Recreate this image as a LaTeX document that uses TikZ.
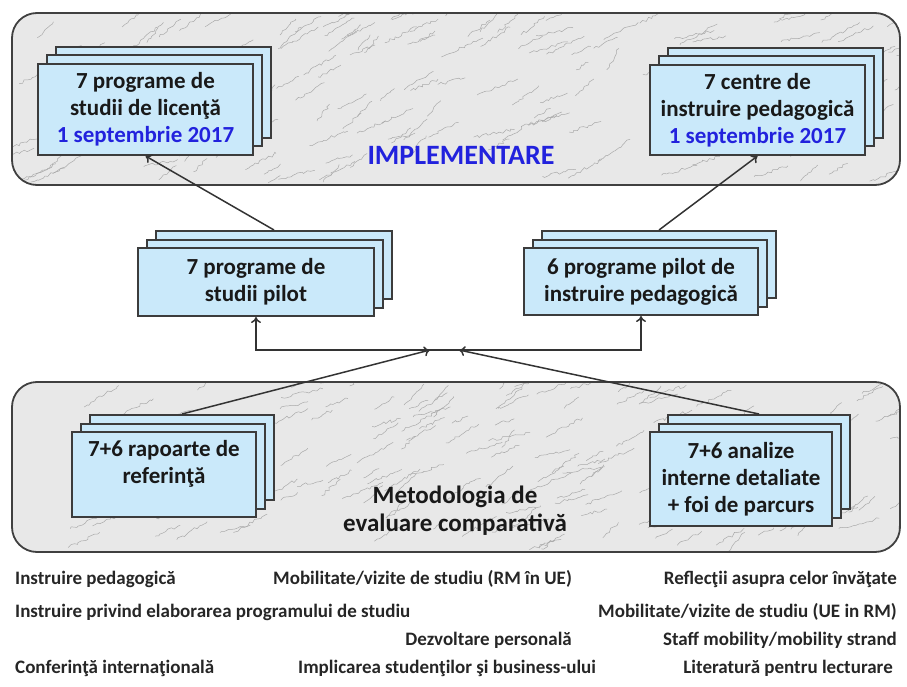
\documentclass[tikz,border=0pt]{standalone}
\usepackage{fontspec}
\setmainfont{Carlito}
\usetikzlibrary{arrows.meta,decorations.pathmorphing}
\definecolor{cardblue}{RGB}{202,233,250}
\definecolor{cardline}{RGB}{60,60,60}
\definecolor{datablue}{RGB}{34,34,221}
\definecolor{marble}{RGB}{232,232,232}
\definecolor{vein}{RGB}{170,170,170}
\tikzstyle{sheet}=[draw=cardline,fill=cardblue,line width=2pt,inner sep=0pt]
\tikzstyle{card}=[sheet,align=center,font=\fontsize{23}{27}\selectfont\bfseries,text=black!90]
\tikzstyle{slab}=[draw=black!75,line width=1.8pt,rounded corners=25pt]
\tikzstyle{link}=[draw=black!80,line width=1.5pt,>={To[length=6pt,width=10pt]},->]
\tikzstyle{item}=[font=\fontsize{19}{22}\selectfont\bfseries,text=black!85,inner sep=0pt]

\begin{document}
\begin{tikzpicture}[x=1pt,y=-1pt]
        \useasboundingbox (0,0) rectangle (907,687);

        % marble slabs
        \pgfmathsetseed{7}
        \foreach \ya/\yb in {13/185,382/552} {
          \fill[marble,rounded corners=25pt] (12,\ya) rectangle (900,\yb);
          \begin{scope}
            \clip[rounded corners=25pt] (12,\ya) rectangle (900,\yb);
            \foreach \v in {1,...,170}
              \draw[vein,line width=.5pt,decorate,
                decoration={random steps,segment length=3pt,amplitude=1.5pt}]
                ({12+888*rnd},{\ya+(\yb-\ya)*rnd}) -- ++({12+30*rnd},{-6-16*rnd});
          \end{scope}
          \draw[slab] (12,\ya) rectangle (900,\yb);
        }

        \node[font=\fontsize{28}{32}\selectfont\bfseries,text=datablue] at (461,155) (impl) {IMPLEMENTARE};
        \node[font=\fontsize{25}{28}\selectfont\bfseries,text=black!90,align=center] at (455,511) (metod) {Metodologia de\\evaluare comparativă};

        % sheets behind each card
        \foreach \n/\x/\y/\w/\h in {licenta/145.5/109.5/215/91,centre/757.5/110/215/90,
            pilot/256/282/236/68,pedag/641/281.5/234/67,raport/164/474.5/184/85,analiz/741/479/182/94}
          \foreach \k in {2,1}
            \node[sheet,minimum width=\w pt,minimum height=\h pt] at (\x+9*\k,\y-8.5*\k) (\n\k) {};

        \node[card,minimum width=215pt,minimum height=91pt] at (145.5,109.5) (licenta)
          {7 programe de\\studii de licenţă\\\textcolor{datablue}{1 septembrie 2017}};
        \node[card,minimum width=215pt,minimum height=90pt] at (757.5,110) (centre)
          {7 centre de\\instruire pedagogică\\\textcolor{datablue}{1 septembrie 2017}};

        \node[card,minimum width=236pt,minimum height=68pt] at (256,282) (pilot) {7 programe de\\studii pilot};
        \node[card,minimum width=234pt,minimum height=67pt] at (641,281.5) (pedag) {6 programe pilot de\\instruire pedagogică};

        \node[card,minimum width=184pt,minimum height=85pt,text depth=25pt] at (164,474.5) (raport) {7+6 rapoarte de\\referinţă};
        \node[card,minimum width=182pt,minimum height=94pt] at (741,479) (analiz) {7+6 analize\\interne detaliate\\+ foi de parcurs};

        \coordinate (hub) at (450,350);
        \coordinate (hubL) at (430,350);
        \coordinate (hubR) at (459,350);

        \draw[link] (pilot2.north) -- (licenta.south);
        \draw[link] (pedag2.north) -- (centre.south);
        \draw[link,<->] (pilot.south) |- (hub) -| (pedag.south);
        \draw[link] (raport2.north) -- (hubL);
        \draw[link] (analiz2.north) -- (hubR);

        % activities
        \node[item,anchor=west] at (15,579) (act1) {Instruire pedagogică};
        \node[item,anchor=west] at (273,579) (act2) {Mobilitate/vizite de studiu (RM în UE)};
        \node[item,anchor=east] at (897,579) (act3) {Reflecţii asupra celor învăţate};
        \node[item,anchor=west] at (15,612) (act4) {Instruire privind elaborarea programului de studiu};
        \node[item,anchor=east] at (897,612) (act5) {Mobilitate/vizite de studiu (UE in RM)};
        \node[item,anchor=east] at (572,640) (act6) {Dezvoltare personală};
        \node[item,anchor=east] at (897,640) (act7) {Staff mobility/mobility strand};
        \node[item,anchor=west] at (15,668) (act8) {Conferinţă internaţională};
        \node[item,anchor=west] at (298,668) (act9) {Implicarea studenţilor şi business-ului};
        \node[item,anchor=east] at (893,668) (act10) {Literatură pentru lecturare};
      \end{tikzpicture}
\end{document}
